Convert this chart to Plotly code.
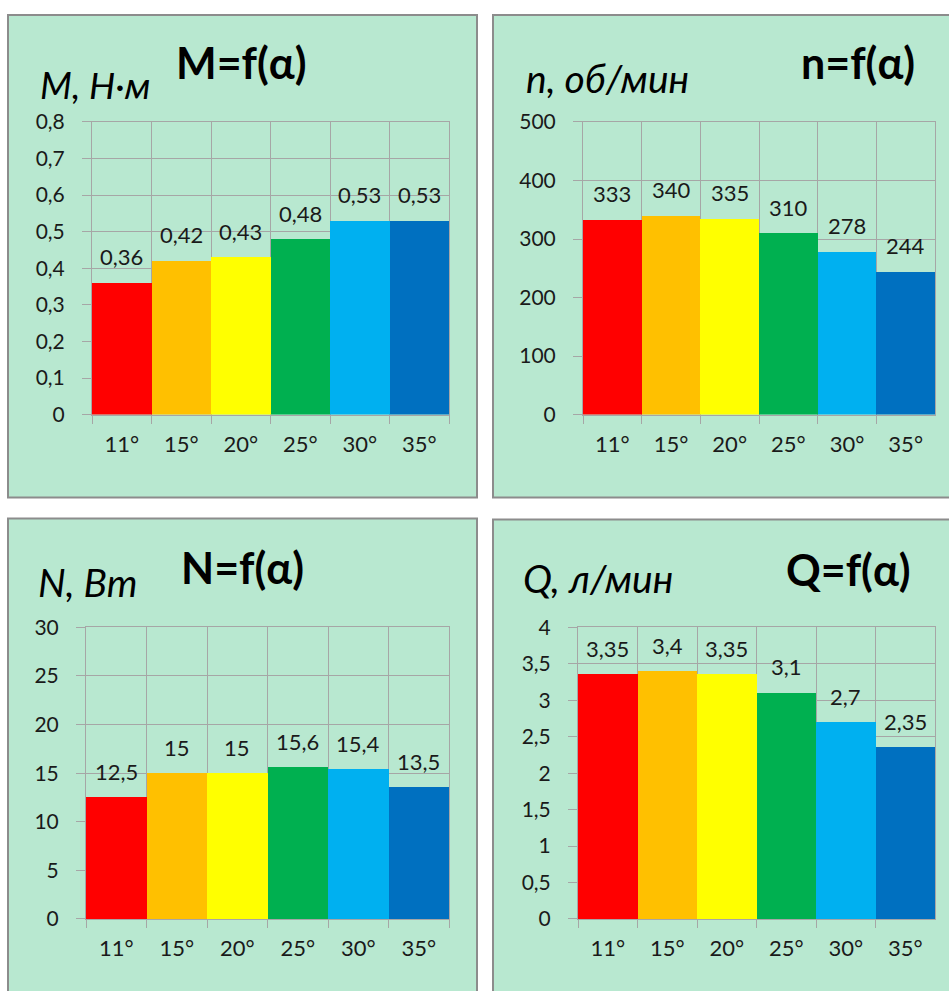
import plotly.graph_objects as go

# ---- data ----
angles = ["11°", "15°", "20°", "25°", "30°", "35°"]
M_values = [0.36, 0.42, 0.43, 0.48, 0.53, 0.53]
n_values = [333, 340, 335, 310, 278, 244]
N_values = [12.5, 15, 15, 15.6, 15.4, 13.5]
Q_values = [3.35, 3.4, 3.35, 3.1, 2.7, 2.35]

M_title, M_label = "M=f(α)", "M, Н·м"
n_title, n_label = "n=f(α)", "n, об/мин"
N_title, N_label = "N=f(α)", "N, Вт"
Q_title, Q_label = "Q=f(α)", "Q, л/мин"

bar_colors = ["#FF0000", "#FFC000", "#FFFF00", "#00B050", "#00B0F0", "#0070C0"]

W, H = 949, 991
FONT = "Lato, 'Open Sans', sans-serif"
GRID = "#a6a6a6"
TXT = "#1a1a1a"
VS = 0.976  # vertical compensation observed in the capture


def fx(px):
    return px / W


def fy(py):
    return 1 - (H / 2 + (py - H / 2) / VS) / H


panels = [
    dict(vals=M_values, title=M_title, label=M_label, yr=[0, 0.8], dt=0.1,
         plot=(92, 449, 120, 413), box=(8, 477, 13, 496),
         tpos=(241, 60), lpos=(95, 82), lsize=37),
    dict(vals=n_values, title=n_title, label=n_label, yr=[0, 500], dt=100,
         plot=(583, 935, 120, 413), box=(493, 962, 13, 496),
         tpos=(858, 60), lpos=(607, 76), lsize=39),
    dict(vals=N_values, title=N_title, label=N_label, yr=[0, 30], dt=5,
         plot=(86, 449, 626, 918), box=(8, 477, 517, 1010),
         tpos=(242, 566), lpos=(87, 581), lsize=39),
    dict(vals=Q_values, title=Q_title, label=Q_label, yr=[0, 4], dt=0.5,
         plot=(578, 935, 626, 918), box=(493, 962, 518, 1010),
         tpos=(848, 568), lpos=(598, 577), lsize=39),
]

fig = go.Figure()
shapes = []
annotations = []

for i, p in enumerate(panels):
    k = "" if i == 0 else str(i + 1)
    xa, ya = "x" + k, "y" + k
    x0, x1, y0, y1 = p["plot"]
    bx0, bx1, by0, by1 = p["box"]
    shapes.append(dict(type="rect", xref="paper", yref="paper",
                       x0=fx(bx0), x1=fx(bx1), y0=fy(by1), y1=fy(by0),
                       fillcolor="#B8E8D0", line=dict(color="#8c8c8c", width=2),
                       layer="below"))
    fig.add_trace(go.Bar(x=angles, y=p["vals"], marker=dict(color=bar_colors, line=dict(width=0)),
                         xaxis=xa, yaxis=ya, showlegend=False, hoverinfo="skip"))
    fig.layout["xaxis" + k] = dict(
        domain=[fx(x0), fx(x1)], anchor=ya, type="category",
        tickson="boundaries", ticks="outside", ticklen=8, tickcolor=GRID,
        showgrid=True, gridcolor=GRID, gridwidth=1,
        showline=True, linecolor=GRID, linewidth=1, mirror=True,
        tickfont=dict(family=FONT, size=22, color=TXT), ticklabelstandoff=10,
        fixedrange=True)
    fig.layout["yaxis" + k] = dict(
        domain=[fy(y1), fy(y0)], anchor=xa, range=p["yr"], dtick=p["dt"], tick0=0,
        ticks="outside", ticklen=9, tickcolor=GRID,
        showgrid=True, gridcolor=GRID, gridwidth=1, zeroline=False,
        showline=True, linecolor=GRID, linewidth=1, mirror=True,
        tickfont=dict(family=FONT, size=21, color=TXT), ticklabelstandoff=13,
        fixedrange=True)
    for a, v in zip(angles, p["vals"]):
        annotations.append(dict(x=a, y=v, xref=xa, yref=ya, text=f"{v:g}".replace(".", ","),
                                showarrow=False, yshift=26, yanchor="middle",
                                font=dict(family=FONT, size=22, color=TXT)))
    annotations.append(dict(x=fx(p["tpos"][0]), y=fy(p["tpos"][1]), xref="paper", yref="paper",
                            text="<b>" + p["title"] + "</b>", showarrow=False,
                            xanchor="center", yanchor="middle",
                            font=dict(family=FONT, size=43, color="#000000")))
    annotations.append(dict(x=fx(p["lpos"][0]), y=fy(p["lpos"][1]), xref="paper", yref="paper",
                            text="<i>" + p["label"] + "</i>", showarrow=False,
                            xanchor="center", yanchor="middle",
                            font=dict(family=FONT, size=p["lsize"], color="#000000")))

fig.update_layout(
    width=W, height=H, margin=dict(l=0, r=0, t=0, b=0),
    paper_bgcolor="#ffffff", plot_bgcolor="#ffffff",
    bargap=0, separators=", ",
    shapes=shapes, annotations=annotations,
    font=dict(family=FONT, color=TXT),
)

fig.write_html(
    "out.html",
    config={"displayModeBar": False},
    post_script=(
        "document.body.style.margin='0';document.body.style.padding='0';"
        "var d=document.getElementById('{plot_id}');"
        "d.style.position='fixed';d.style.top='0px';d.style.left='0px';"
    ),
)
